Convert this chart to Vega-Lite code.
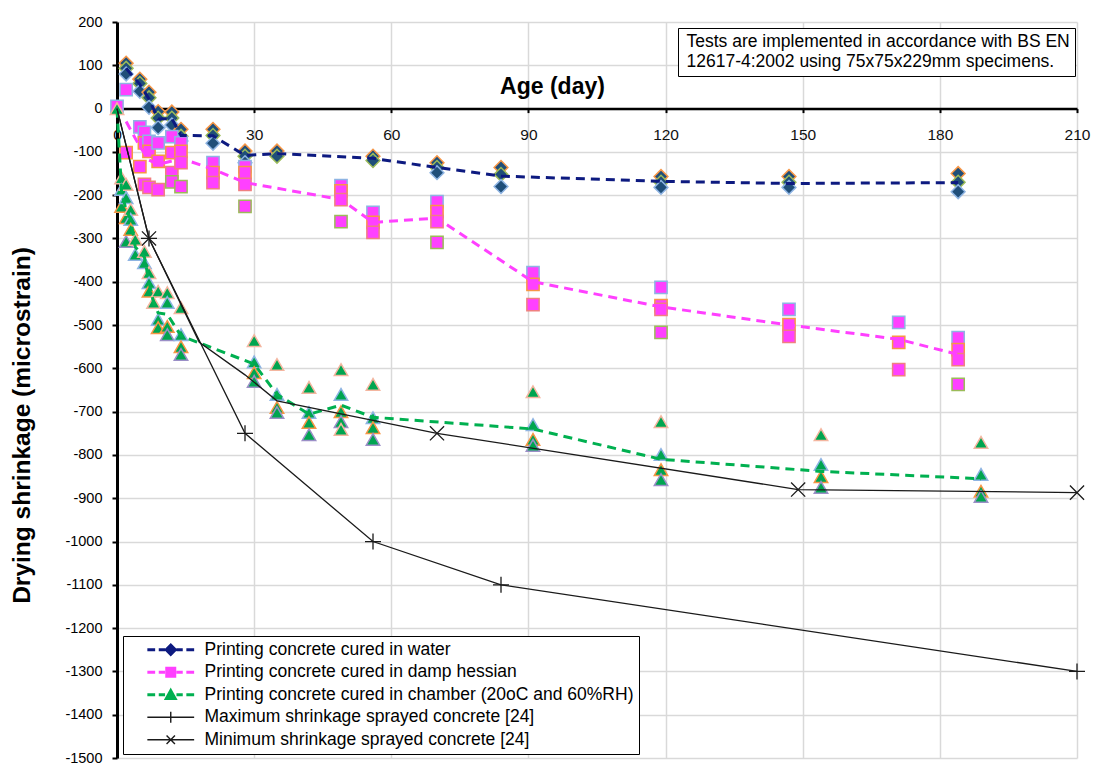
{
  "$schema": "https://vega.github.io/schema/vega-lite/v6.json",
  "width": 960,
  "height": 736,
  "autosize": {"type": "none"},
  "padding": {"left": 117, "top": 22, "right": 17, "bottom": 8},
  "background": "white",
  "config": {"view": {"stroke": null}, "font": "Liberation Sans"},
  "datasets": {
    "pts": [
      {"g":"W","d":2,"v":105,"k":1},{"g":"W","d":2,"v":93,"k":2},{"g":"W","d":2,"v":80,"k":3},
      {"g":"W","d":5,"v":68,"k":1},{"g":"W","d":5,"v":58,"k":2},{"g":"W","d":5,"v":40,"k":3},
      {"g":"W","d":7,"v":38,"k":1},{"g":"W","d":7,"v":25,"k":2},{"g":"W","d":7,"v":3,"k":3},
      {"g":"W","d":9,"v":-7,"k":1},{"g":"W","d":9,"v":-22,"k":2},{"g":"W","d":9,"v":-44,"k":3},
      {"g":"W","d":12,"v":-8,"k":1},{"g":"W","d":12,"v":-22,"k":2},{"g":"W","d":12,"v":-38,"k":3},
      {"g":"W","d":14,"v":-48,"k":1},{"g":"W","d":14,"v":-64,"k":2},{"g":"W","d":14,"v":-75,"k":3},
      {"g":"W","d":21,"v":-48,"k":1},{"g":"W","d":21,"v":-62,"k":2},{"g":"W","d":21,"v":-80,"k":3},
      {"g":"W","d":28,"v":-98,"k":1},{"g":"W","d":28,"v":-110,"k":2},{"g":"W","d":28,"v":-125,"k":3},
      {"g":"W","d":35,"v":-98,"k":1},{"g":"W","d":35,"v":-110,"k":2},
      {"g":"W","d":56,"v":-110,"k":1},{"g":"W","d":56,"v":-120,"k":2},
      {"g":"W","d":70,"v":-125,"k":1},{"g":"W","d":70,"v":-136,"k":2},{"g":"W","d":70,"v":-148,"k":3},
      {"g":"W","d":84,"v":-136,"k":1},{"g":"W","d":84,"v":-152,"k":2},{"g":"W","d":84,"v":-180,"k":3},
      {"g":"W","d":119,"v":-157,"k":1},{"g":"W","d":119,"v":-170,"k":2},{"g":"W","d":119,"v":-182,"k":3},
      {"g":"W","d":147,"v":-157,"k":1},{"g":"W","d":147,"v":-170,"k":2},{"g":"W","d":147,"v":-182,"k":3},
      {"g":"W","d":184,"v":-150,"k":1},{"g":"W","d":184,"v":-170,"k":2},{"g":"W","d":184,"v":-192,"k":3},

      {"g":"H","d":0,"v":5,"k":1},
      {"g":"H","d":2,"v":44,"k":1},{"g":"H","d":2,"v":-102,"k":2},
      {"g":"H","d":5,"v":-42,"k":1},{"g":"H","d":5,"v":-134,"k":2},
      {"g":"H","d":6,"v":-55,"k":1},{"g":"H","d":6,"v":-79,"k":2},{"g":"H","d":6,"v":-175,"k":3},
      {"g":"H","d":7,"v":-76,"k":1},{"g":"H","d":7,"v":-99,"k":2},{"g":"H","d":7,"v":-182,"k":3},
      {"g":"H","d":9,"v":-79,"k":1},{"g":"H","d":9,"v":-122,"k":2},{"g":"H","d":9,"v":-187,"k":3},
      {"g":"H","d":12,"v":-65,"k":1},{"g":"H","d":12,"v":-102,"k":2},{"g":"H","d":12,"v":-148,"k":3},{"g":"H","d":12,"v":-169,"k":4},
      {"g":"H","d":14,"v":-79,"k":1},{"g":"H","d":14,"v":-99,"k":2},{"g":"H","d":14,"v":-125,"k":3},{"g":"H","d":14,"v":-180,"k":4},
      {"g":"H","d":21,"v":-125,"k":1},{"g":"H","d":21,"v":-148,"k":2},{"g":"H","d":21,"v":-171,"k":3},
      {"g":"H","d":28,"v":-134,"k":1},{"g":"H","d":28,"v":-148,"k":2},{"g":"H","d":28,"v":-175,"k":3},{"g":"H","d":28,"v":-226,"k":4},
      {"g":"H","d":49,"v":-178,"k":1},{"g":"H","d":49,"v":-190,"k":2},{"g":"H","d":49,"v":-210,"k":3},{"g":"H","d":49,"v":-261,"k":4},
      {"g":"H","d":56,"v":-240,"k":1},{"g":"H","d":56,"v":-263,"k":2},{"g":"H","d":56,"v":-286,"k":3},
      {"g":"H","d":70,"v":-215,"k":1},{"g":"H","d":70,"v":-238,"k":2},{"g":"H","d":70,"v":-261,"k":3},{"g":"H","d":70,"v":-309,"k":4},
      {"g":"H","d":91,"v":-379,"k":1},{"g":"H","d":91,"v":-406,"k":2},{"g":"H","d":91,"v":-453,"k":3},
      {"g":"H","d":119,"v":-413,"k":1},{"g":"H","d":119,"v":-455,"k":2},{"g":"H","d":119,"v":-464,"k":3},{"g":"H","d":119,"v":-517,"k":4},
      {"g":"H","d":147,"v":-464,"k":1},{"g":"H","d":147,"v":-499,"k":2},{"g":"H","d":147,"v":-526,"k":3},
      {"g":"H","d":171,"v":-494,"k":1},{"g":"H","d":171,"v":-540,"k":2},{"g":"H","d":171,"v":-603,"k":3},
      {"g":"H","d":184,"v":-529,"k":1},{"g":"H","d":184,"v":-557,"k":2},{"g":"H","d":184,"v":-580,"k":3},{"g":"H","d":184,"v":-637,"k":4},

      {"g":"C","d":0,"v":0,"k":1},
      {"g":"C","d":1,"v":-160,"k":1},{"g":"C","d":1,"v":-187,"k":2},{"g":"C","d":1,"v":-226,"k":3},
      {"g":"C","d":2,"v":-175,"k":1},{"g":"C","d":2,"v":-206,"k":2},{"g":"C","d":2,"v":-252,"k":3},{"g":"C","d":2,"v":-307,"k":4},
      {"g":"C","d":3,"v":-233,"k":1},{"g":"C","d":3,"v":-256,"k":2},{"g":"C","d":3,"v":-279,"k":3},
      {"g":"C","d":4,"v":-302,"k":1},{"g":"C","d":4,"v":-337,"k":2},
      {"g":"C","d":6,"v":-330,"k":1},{"g":"C","d":6,"v":-356,"k":2},
      {"g":"C","d":7,"v":-379,"k":1},{"g":"C","d":7,"v":-402,"k":2},{"g":"C","d":7,"v":-422,"k":3},
      {"g":"C","d":8,"v":-448,"k":1},
      {"g":"C","d":9,"v":-422,"k":1},{"g":"C","d":9,"v":-487,"k":2},{"g":"C","d":9,"v":-506,"k":3},
      {"g":"C","d":11,"v":-425,"k":1},{"g":"C","d":11,"v":-448,"k":2},{"g":"C","d":11,"v":-503,"k":3},{"g":"C","d":11,"v":-522,"k":4},
      {"g":"C","d":14,"v":-460,"k":1},{"g":"C","d":14,"v":-522,"k":2},{"g":"C","d":14,"v":-550,"k":3},{"g":"C","d":14,"v":-568,"k":4},
      {"g":"C","d":30,"v":-536,"k":1},{"g":"C","d":30,"v":-585,"k":2},{"g":"C","d":30,"v":-610,"k":3},{"g":"C","d":30,"v":-630,"k":4},
      {"g":"C","d":35,"v":-591,"k":1},{"g":"C","d":35,"v":-660,"k":2},{"g":"C","d":35,"v":-690,"k":3},{"g":"C","d":35,"v":-702,"k":4},
      {"g":"C","d":42,"v":-644,"k":1},{"g":"C","d":42,"v":-702,"k":2},{"g":"C","d":42,"v":-725,"k":3},{"g":"C","d":42,"v":-753,"k":4},
      {"g":"C","d":49,"v":-603,"k":1},{"g":"C","d":49,"v":-660,"k":2},{"g":"C","d":49,"v":-700,"k":3},{"g":"C","d":49,"v":-723,"k":4},{"g":"C","d":49,"v":-741,"k":1},
      {"g":"C","d":56,"v":-637,"k":1},{"g":"C","d":56,"v":-714,"k":2},{"g":"C","d":56,"v":-737,"k":3},{"g":"C","d":56,"v":-764,"k":4},
      {"g":"C","d":91,"v":-654,"k":1},{"g":"C","d":91,"v":-730,"k":2},{"g":"C","d":91,"v":-764,"k":3},{"g":"C","d":91,"v":-778,"k":4},
      {"g":"C","d":119,"v":-723,"k":1},{"g":"C","d":119,"v":-799,"k":2},{"g":"C","d":119,"v":-834,"k":3},{"g":"C","d":119,"v":-857,"k":4},
      {"g":"C","d":154,"v":-753,"k":1},{"g":"C","d":154,"v":-822,"k":2},{"g":"C","d":154,"v":-850,"k":3},{"g":"C","d":154,"v":-875,"k":4},
      {"g":"C","d":189,"v":-771,"k":1},{"g":"C","d":189,"v":-845,"k":2},{"g":"C","d":189,"v":-884,"k":3},{"g":"C","d":189,"v":-896,"k":4}
    ],
    "lines": [
      {"s":"Printing concrete cured in water","d":2,"v":93},
      {"s":"Printing concrete cured in water","d":5,"v":56},
      {"s":"Printing concrete cured in water","d":7,"v":22},
      {"s":"Printing concrete cured in water","d":9,"v":-24},
      {"s":"Printing concrete cured in water","d":12,"v":-23},
      {"s":"Printing concrete cured in water","d":14,"v":-62},
      {"s":"Printing concrete cured in water","d":21,"v":-63},
      {"s":"Printing concrete cured in water","d":28,"v":-108},
      {"s":"Printing concrete cured in water","d":35,"v":-104},
      {"s":"Printing concrete cured in water","d":56,"v":-115},
      {"s":"Printing concrete cured in water","d":70,"v":-136},
      {"s":"Printing concrete cured in water","d":84,"v":-156},
      {"s":"Printing concrete cured in water","d":119,"v":-168},
      {"s":"Printing concrete cured in water","d":147,"v":-173},
      {"s":"Printing concrete cured in water","d":184,"v":-171},

      {"s":"Printing concrete cured in damp hessian","d":2,"v":-30},
      {"s":"Printing concrete cured in damp hessian","d":5,"v":-88},
      {"s":"Printing concrete cured in damp hessian","d":6,"v":-103},
      {"s":"Printing concrete cured in damp hessian","d":7,"v":-119},
      {"s":"Printing concrete cured in damp hessian","d":9,"v":-129},
      {"s":"Printing concrete cured in damp hessian","d":12,"v":-121},
      {"s":"Printing concrete cured in damp hessian","d":14,"v":-115},
      {"s":"Printing concrete cured in damp hessian","d":21,"v":-140},
      {"s":"Printing concrete cured in damp hessian","d":28,"v":-171},
      {"s":"Printing concrete cured in damp hessian","d":49,"v":-210},
      {"s":"Printing concrete cured in damp hessian","d":56,"v":-263},
      {"s":"Printing concrete cured in damp hessian","d":70,"v":-253},
      {"s":"Printing concrete cured in damp hessian","d":91,"v":-400},
      {"s":"Printing concrete cured in damp hessian","d":119,"v":-458},
      {"s":"Printing concrete cured in damp hessian","d":147,"v":-500},
      {"s":"Printing concrete cured in damp hessian","d":171,"v":-533},
      {"s":"Printing concrete cured in damp hessian","d":184,"v":-568},

      {"s":"Printing concrete cured in chamber (20oC and 60%RH)","d":0,"v":0},
      {"s":"Printing concrete cured in chamber (20oC and 60%RH)","d":1,"v":-191},
      {"s":"Printing concrete cured in chamber (20oC and 60%RH)","d":2,"v":-235},
      {"s":"Printing concrete cured in chamber (20oC and 60%RH)","d":3,"v":-256},
      {"s":"Printing concrete cured in chamber (20oC and 60%RH)","d":4,"v":-320},
      {"s":"Printing concrete cured in chamber (20oC and 60%RH)","d":6,"v":-343},
      {"s":"Printing concrete cured in chamber (20oC and 60%RH)","d":7,"v":-401},
      {"s":"Printing concrete cured in chamber (20oC and 60%RH)","d":8,"v":-448},
      {"s":"Printing concrete cured in chamber (20oC and 60%RH)","d":9,"v":-472},
      {"s":"Printing concrete cured in chamber (20oC and 60%RH)","d":11,"v":-475},
      {"s":"Printing concrete cured in chamber (20oC and 60%RH)","d":14,"v":-525},
      {"s":"Printing concrete cured in chamber (20oC and 60%RH)","d":30,"v":-590},
      {"s":"Printing concrete cured in chamber (20oC and 60%RH)","d":35,"v":-660},
      {"s":"Printing concrete cured in chamber (20oC and 60%RH)","d":42,"v":-706},
      {"s":"Printing concrete cured in chamber (20oC and 60%RH)","d":49,"v":-685},
      {"s":"Printing concrete cured in chamber (20oC and 60%RH)","d":56,"v":-713},
      {"s":"Printing concrete cured in chamber (20oC and 60%RH)","d":91,"v":-740},
      {"s":"Printing concrete cured in chamber (20oC and 60%RH)","d":119,"v":-810},
      {"s":"Printing concrete cured in chamber (20oC and 60%RH)","d":154,"v":-838},
      {"s":"Printing concrete cured in chamber (20oC and 60%RH)","d":189,"v":-855},

      {"s":"Maximum shrinkage sprayed concrete [24]","d":0,"v":0},
      {"s":"Maximum shrinkage sprayed concrete [24]","d":7,"v":-300},
      {"s":"Maximum shrinkage sprayed concrete [24]","d":28,"v":-750},
      {"s":"Maximum shrinkage sprayed concrete [24]","d":56,"v":-1000},
      {"s":"Maximum shrinkage sprayed concrete [24]","d":84,"v":-1100},
      {"s":"Maximum shrinkage sprayed concrete [24]","d":210,"v":-1300},

      {"s":"Minimum shrinkage sprayed concrete [24]","d":0,"v":0},
      {"s":"Minimum shrinkage sprayed concrete [24]","d":7,"v":-300},
      {"s":"Minimum shrinkage sprayed concrete [24]","d":18,"v":-540},
      {"s":"Minimum shrinkage sprayed concrete [24]","d":28,"v":-615},
      {"s":"Minimum shrinkage sprayed concrete [24]","d":35,"v":-675},
      {"s":"Minimum shrinkage sprayed concrete [24]","d":70,"v":-750},
      {"s":"Minimum shrinkage sprayed concrete [24]","d":149,"v":-880},
      {"s":"Minimum shrinkage sprayed concrete [24]","d":210,"v":-887}
    ]
  },
  "encoding": {
    "x": {
      "field": "d", "type": "quantitative",
      "scale": {"domain": [0, 210], "nice": false, "zero": false},
      "axis": {
        "title": "Age (day)", "orient": "bottom", "offset": -649.4,
        "values": [0, 30, 60, 90, 120, 150, 180, 210],
        "domainColor": "black", "domainWidth": 2.5,
        "tickColor": "black", "tickWidth": 2, "tickSize": 4,
        "labelFontSize": 15.5, "labelColor": "#111111", "labelPadding": 15, "labelFlush": false,
        "gridColor": "#d9d9d9", "gridWidth": 1.5,
        "titleFontSize": 23, "titleFontWeight": "bold", "titleColor": "black",
        "titleX": 435, "titleY": -22, "titleAlign": "center", "titleBaseline": "middle"
      }
    },
    "y": {
      "field": "v", "type": "quantitative",
      "scale": {"domain": [-1500, 200], "nice": false, "zero": false},
      "axis": {
        "title": "Drying shrinkage (microstrain)",
        "values": [200, 100, 0, -100, -200, -300, -400, -500, -600, -700, -800, -900, -1000, -1100, -1200, -1300, -1400, -1500],
        "labelExpr": "'' + datum.value",
        "domainColor": "black", "domainWidth": 3,
        "tickColor": "black", "tickWidth": 2, "tickSize": 5,
        "labelFontSize": 14.5, "labelColor": "black", "labelPadding": 10,
        "gridColor": "#d9d9d9", "gridWidth": 1.5,
        "titleFontSize": 24.5, "titleFontWeight": "bold", "titleColor": "black",
        "titleAngle": -90, "titleX": -95, "titleY": 403, "titleAlign": "center", "titleBaseline": "middle"
      }
    }
  },
  "layer": [
    {
      "data": {"name": "pts"},
      "transform": [{"filter": "datum.g === 'W'"}],
      "mark": {"type": "point", "shape": "diamond", "filled": true, "size": 190, "fill": "#1f4e79", "strokeWidth": 1.5, "opacity": 1},
      "encoding": {"stroke": {"condition": [{"test": "datum.k === 1", "value": "#f79646"}, {"test": "datum.k === 2", "value": "#9bbb59"}, {"test": "datum.k === 3", "value": "#8eb4e3"}], "value": "#b3a2c7"}}
    },
    {
      "data": {"name": "pts"},
      "transform": [{"filter": "datum.g === 'H'"}],
      "mark": {"type": "point", "shape": "square", "filled": true, "size": 150, "fill": "#ff40ff", "strokeWidth": 1.5, "opacity": 1},
      "encoding": {"stroke": {"condition": [{"test": "datum.k === 1", "value": "#8eb4e3"}, {"test": "datum.k === 2", "value": "#f79646"}, {"test": "datum.k === 3", "value": "#f08080"}], "value": "#9bbb59"}}
    },
    {
      "data": {"name": "pts"},
      "transform": [{"filter": "datum.g === 'C'"}],
      "mark": {"type": "point", "shape": "triangle-up", "filled": true, "size": 180, "fill": "#00a550", "strokeWidth": 1.5, "opacity": 1},
      "encoding": {"stroke": {"condition": [{"test": "datum.k === 1", "value": "#f4b6a0"}, {"test": "datum.k === 2", "value": "#8eb4e3"}, {"test": "datum.k === 3", "value": "#f79646"}], "value": "#9b8fc7"}}
    },
    {
      "data": {"name": "lines"},
      "transform": [{"filter": "indexof(datum.s, 'Printing') === 0"}],
      "mark": {"type": "line", "strokeDash": [9, 6], "strokeWidth": 3},
      "encoding": {
        "stroke": {"field": "s", "type": "nominal", "legend": null,
          "scale": {"domain": ["Maximum shrinkage sprayed concrete [24]", "Minimum shrinkage sprayed concrete [24]", "Printing concrete cured in water", "Printing concrete cured in damp hessian", "Printing concrete cured in chamber (20oC and 60%RH)"],
                    "range": ["#1a1a1a", "#1a1a1a", "#0d1a80", "#ff40ff", "#00b050"]}}
      }
    },
    {
      "data": {"name": "lines"},
      "transform": [{"filter": "indexof(datum.s, 'shrinkage') >= 0"}],
      "mark": {"type": "line", "strokeWidth": 1.3},
      "encoding": {
        "stroke": {"field": "s", "type": "nominal", "legend": null,
          "scale": {"domain": ["Maximum shrinkage sprayed concrete [24]", "Minimum shrinkage sprayed concrete [24]", "Printing concrete cured in water", "Printing concrete cured in damp hessian", "Printing concrete cured in chamber (20oC and 60%RH)"],
                    "range": ["#1a1a1a", "#1a1a1a", "#0d1a80", "#ff40ff", "#00b050"]}}
      }
    },
    {
      "data": {"name": "lines"},
      "transform": [{"filter": "datum.s === 'Maximum shrinkage sprayed concrete [24]' && datum.d > 0"}],
      "mark": {"type": "point", "shape": "M-1,0H1M0,-1V1", "size": 256, "filled": false, "stroke": "#1a1a1a", "strokeWidth": 1.3, "opacity": 1}
    },
    {
      "data": {"name": "lines"},
      "transform": [{"filter": "datum.s === 'Minimum shrinkage sprayed concrete [24]' && (datum.d === 7 || datum.d === 70 || datum.d === 149 || datum.d === 210)"}],
      "mark": {"type": "point", "shape": "M-1,-1L1,1M-1,1L1,-1", "size": 200, "filled": false, "stroke": "#1a1a1a", "strokeWidth": 1.3, "opacity": 1}
    },
    {
      "data": {"values": []},
      "mark": {"type": "point", "filled": false, "opacity": 1},
      "encoding": {
        "color": {"field": "s", "type": "nominal",
          "scale": {"domain": ["Printing concrete cured in water", "Printing concrete cured in damp hessian", "Printing concrete cured in chamber (20oC and 60%RH)", "Maximum shrinkage sprayed concrete [24]", "Minimum shrinkage sprayed concrete [24]"],
                    "range": ["#0d1a80", "#ff40ff", "#00b050", "#1a1a1a", "#1a1a1a"]},
          "legend": {
            "title": null, "orient": "none", "legendX": 6, "legendY": 614, "direction": "vertical",
            "fillColor": "white", "strokeColor": "black", "padding": 5,
            "symbolSize": 144, "symbolOffset": 34, "symbolStrokeWidth": 1.4, "symbolOpacity": 1,
            "labelOffset": 25, "labelFontSize": 17.5, "labelFont": "Liberation Sans", "labelColor": "black", "labelLimit": 800,
            "rowPadding": 3.5, "labelExpr": "datum.label + '     '"
          }
        },
        "shape": {"field": "s", "type": "nominal",
          "scale": {"domain": ["Printing concrete cured in water", "Printing concrete cured in damp hessian", "Printing concrete cured in chamber (20oC and 60%RH)", "Maximum shrinkage sprayed concrete [24]", "Minimum shrinkage sprayed concrete [24]"],
                    "range": [
                      "M-3.9,-0.12H-2.6M-3.9,0.12H-2.6M-2,-0.12H-0.95M-2,0.12H-0.95M0.95,-0.12H2M0.95,0.12H2M2.6,-0.12H3.9M2.6,0.12H3.9M0,-0.95L0.95,0L0,0.95L-0.95,0ZM-0.15,-0.8H0.15M-0.35,-0.6H0.35M-0.55,-0.4H0.55M-0.75,-0.2H0.75M-0.95,0H0.95M-0.75,0.2H0.75M-0.55,0.4H0.55M-0.35,0.6H0.35M-0.15,0.8H0.15",
                      "M-3.9,-0.12H-2.6M-3.9,0.12H-2.6M-2,-0.12H-0.95M-2,0.12H-0.95M0.95,-0.12H2M0.95,0.12H2M2.6,-0.12H3.9M2.6,0.12H3.9M-0.8,-0.8H0.8V0.8H-0.8ZM-0.8,-0.6H0.8M-0.8,-0.4H0.8M-0.8,-0.2H0.8M-0.8,0H0.8M-0.8,0.2H0.8M-0.8,0.4H0.8M-0.8,0.6H0.8",
                      "M-3.9,-0.12H-2.6M-3.9,0.12H-2.6M-2,-0.12H-0.95M-2,0.12H-0.95M0.95,-0.12H2M0.95,0.12H2M2.6,-0.12H3.9M2.6,0.12H3.9M0,-0.95L0.95,0.75H-0.95ZM-0.11,-0.75H0.11M-0.22,-0.55H0.22M-0.34,-0.35H0.34M-0.45,-0.15H0.45M-0.56,0.05H0.56M-0.67,0.25H0.67M-0.78,0.45H0.78M-0.89,0.65H0.89",
                      "M-3.9,0H3.9M0,-0.9V0.9",
                      "M-3.9,0H3.9M-0.7,-0.7L0.7,0.7M-0.7,0.7L0.7,-0.7"
                    ]},
          "legend": {
            "title": null, "orient": "none", "legendX": 6, "legendY": 614, "direction": "vertical",
            "fillColor": "white", "strokeColor": "black", "padding": 5,
            "symbolSize": 144, "symbolOffset": 34, "symbolStrokeWidth": 1.4, "symbolOpacity": 1,
            "labelOffset": 25, "labelFontSize": 17.5, "labelFont": "Liberation Sans", "labelColor": "black", "labelLimit": 800,
            "rowPadding": 3.5, "labelExpr": "datum.label + '     '"
          }
        }
      }
    },
    {
      "data": {"values": []},
      "mark": {"type": "point", "opacity": 1},
      "encoding": {
        "strokeDash": {"field": "n", "type": "nominal",
          "scale": {"domain": ["Tests are implemented in accordance with BS EN", "12617-4:2002 using 75x75x229mm specimens."], "range": [[1, 0], [1, 0]]},
          "legend": {
            "title": null, "orient": "none", "legendX": 561, "legendY": 6, "direction": "vertical",
            "fillColor": "white", "strokeColor": "black", "padding": 5,
            "symbolSize": 0, "symbolStrokeWidth": 0, "symbolOpacity": 0, "symbolType": "circle",
            "labelOffset": -14, "labelFontSize": 17.5, "labelFont": "Liberation Sans", "labelColor": "black", "labelLimit": 800,
            "rowPadding": 1
          }
        }
      }
    }
  ]
}
